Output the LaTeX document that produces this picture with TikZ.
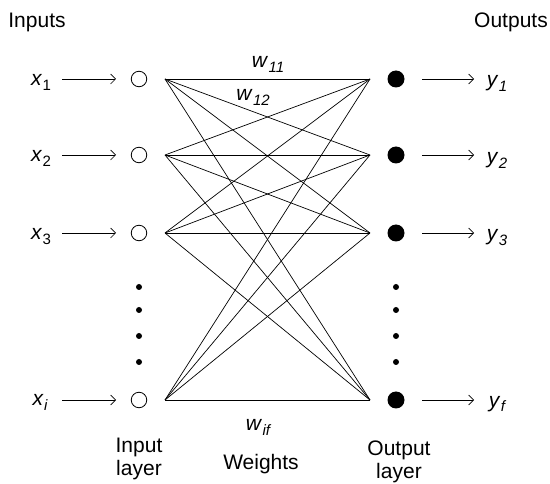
\documentclass[tikz,border=0pt]{standalone}
\usepackage{fontspec}
\setmainfont{Liberation Sans}
\usetikzlibrary{arrows.meta}
\newcommand\lbsub[2]{\textit{#1}\kern0.5pt\raisebox{-0.22em}{\fontsize{15}{15}\selectfont\itshape #2}}
\newcommand\lbsubup[2]{\textit{#1}\kern0.5pt\raisebox{-0.22em}{\fontsize{15}{15}\selectfont #2}}
\begin{document}
\begin{tikzpicture}[x=1pt,y=-1pt,
  font=\fontsize{21}{24}\selectfont,
  txt/.style={inner sep=0pt, anchor=base},
  twoline/.style={inner sep=0pt, anchor=north, align=center, font=\fontsize{21}{23}\selectfont},
  inneuron/.style={circle, draw, minimum size=15.5pt, inner sep=0pt, line width=0.8pt},
  outneuron/.style={circle, fill, minimum size=17pt, inner sep=0pt},
  dotn/.style={circle, fill, minimum size=6pt, inner sep=0pt},
  conn/.style={line width=0.7pt},
  arr/.style={-{Straight Barb[length=5pt,width=10pt]}, line width=0.7pt}]
\useasboundingbox (0,0) rectangle (550,484);

% headings
\node[txt] (hin) at (37,28) {Inputs};
\node[txt] (hout) at (511,28) {Outputs};

% input and output neurons
\foreach \n/\yy in {1/79, 2/155, 3/233, 4/400} {
  \node[inneuron] (in\n) at (139,\yy) {};
  \node[outneuron] (out\n) at (396,\yy) {};
  \coordinate (L\n) at (165,\yy);
  \coordinate (R\n) at (370,\yy);
  \coordinate (ia\n) at (62,\yy);
  \coordinate (ib\n) at (116,\yy);
  \coordinate (oa\n) at (422,\yy);
  \coordinate (ob\n) at (474,\yy);
  \draw[arr] (ia\n) -- (ib\n);
  \draw[arr] (oa\n) -- (ob\n);
}

% input labels
\node[txt] (x1) at (41,86) {\lbsubup{x}{1}};
\node[txt] (x2) at (41,162) {\lbsubup{x}{2}};
\node[txt] (x3) at (41,240) {\lbsubup{x}{3}};
\node[txt] (xi) at (40,406) {\lbsub{x}{i}};

% output labels
\node[txt] (y1) at (497,87) {\lbsub{y}{1}};
\node[txt] (y2) at (497,164) {\lbsub{y}{2}};
\node[txt] (y3) at (497,241) {\lbsub{y}{3}};
\node[txt] (yf) at (497,407) {\lbsub{y}{f}};

% connections
\foreach \a in {1,2,3,4} {
  \foreach \b in {1,2,3,4} {
    \draw[conn] (L\a) -- (R\b);
  }
}

% ellipsis dots
\foreach \k/\yy in {1/287, 2/310, 3/336, 4/362} {
  \node[dotn] (din\k) at (139,\yy) {};
  \node[dotn] (dout\k) at (396,\yy) {};
}

% weight labels
\node[txt] (w11) at (268,68) {\lbsub{w}{11}};
\node[txt] (w12) at (253,101) {\lbsub{w}{12}};
\node[txt] (wif) at (258,431) {\lbsub{w}{if}};

% bottom labels
\node[twoline] (inlayer) at (139,438) {Input\\layer};
\node[twoline] (outlayer) at (399,441) {Output\\layer};
\node[txt] (weights) at (261,469) {Weights};
\end{tikzpicture}
\end{document}
